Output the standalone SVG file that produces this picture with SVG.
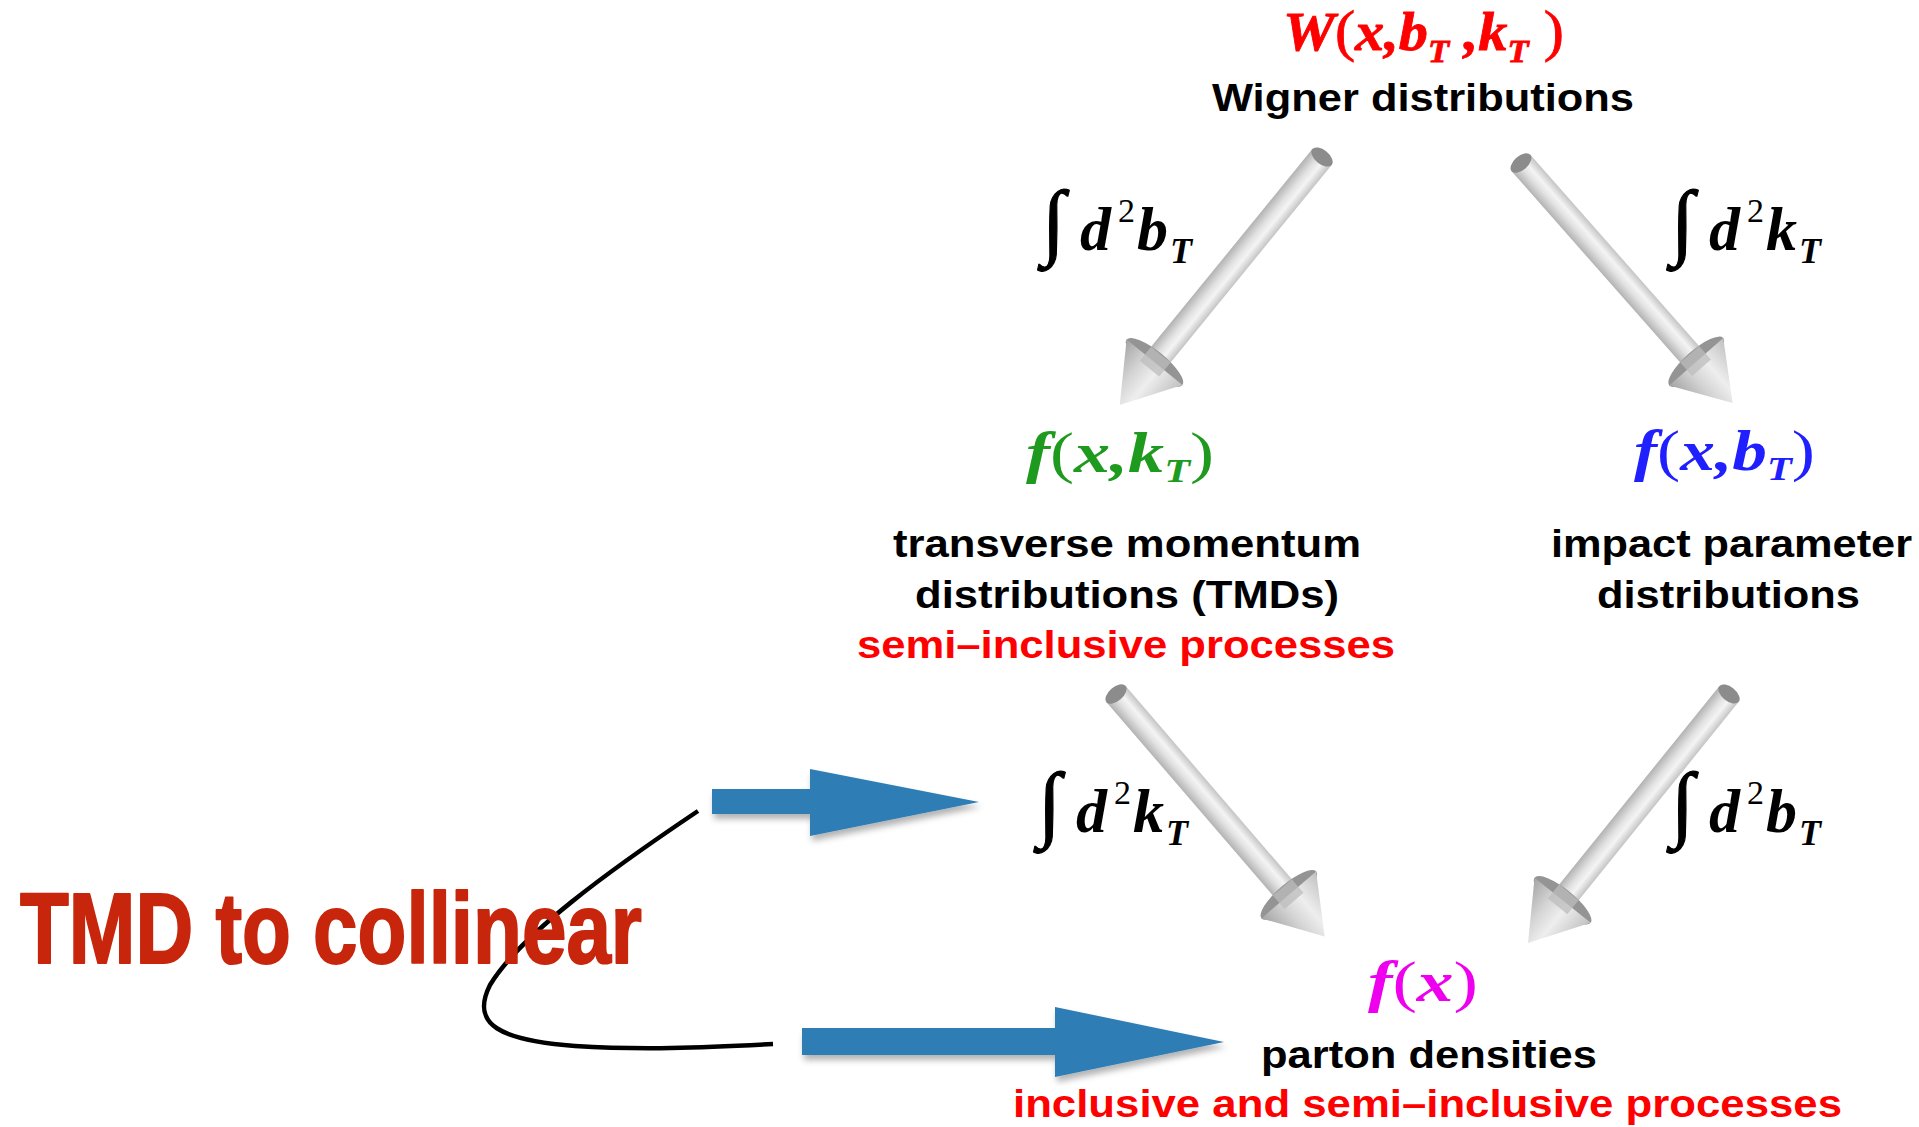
<svg xmlns="http://www.w3.org/2000/svg" width="1919" height="1127" viewBox="0 0 1919 1127">
<defs>
<style>
.sans{font-family:"Liberation Sans",Arial,sans-serif;font-weight:bold;}
.m{font-family:"Liberation Serif","Times New Roman",serif;font-weight:bold;font-style:italic;}
.up{font-style:normal;font-weight:normal;}
.int{font-family:"Liberation Serif","Times New Roman",serif;font-style:italic;font-size:84px;fill:#000;stroke:#000;stroke-width:1.2;}
.var{font-size:62px;}
.sup{font-family:"Liberation Serif","Times New Roman",serif;font-size:34px;}
.sub{font-size:36px;}
.lbl{font-size:39px;fill:#000;}
.red{fill:#ff0000;}
.tmd{font-family:"Liberation Sans Narrow","Liberation Sans",sans-serif;font-weight:bold;fill:#c8260c;stroke:#c8260c;stroke-width:2;stroke-linejoin:round;}
.blue{fill:#2f7db4;}
</style>
<linearGradient id="shaft" x1="0" y1="0" x2="0" y2="1">
<stop offset="0" stop-color="#c4c4c4"/>
<stop offset="0.35" stop-color="#f4f4f4"/>
<stop offset="0.6" stop-color="#e2e2e2"/>
<stop offset="1" stop-color="#b2b2b2"/>
</linearGradient>
<linearGradient id="cone" x1="0" y1="0" x2="0" y2="1">
<stop offset="0" stop-color="#c0c0c0"/>
<stop offset="0.4" stop-color="#eeeeee"/>
<stop offset="0.65" stop-color="#d4d4d4"/>
<stop offset="1" stop-color="#a4a4a4"/>
</linearGradient>
<g id="garrow">
<rect x="0" y="-12.5" width="270" height="25" fill="url(#shaft)"/>
<ellipse cx="0" cy="0" rx="7" ry="12.5" fill="#8c8c8c"/>
<ellipse cx="265" cy="0" rx="11" ry="36" fill="#949494"/>
<polygon points="265,-36 265,36 320,0" fill="url(#cone)"/>
<rect x="255" y="-12.5" width="18" height="25" fill="#bcbcbc" opacity="0.75"/>
</g>
<filter id="sh" x="-10%" y="-20%" width="130%" height="150%">
<feDropShadow dx="2" dy="5" stdDeviation="3" flood-color="#000" flood-opacity="0.3"/>
</filter>
</defs>
<rect width="1919" height="1127" fill="#fff"/>

<g id="connectors">
<use href="#garrow" transform="translate(1322,157) rotate(129.2)"/>
<use href="#garrow" transform="translate(1521,163) rotate(48.6)"/>
<use href="#garrow" transform="translate(1116,694) rotate(49.3)"/>
<use href="#garrow" transform="translate(1729,694) rotate(128.9)"/>
<polygon class="blue" filter="url(#sh)" points="712,789 810,789 810,769 979,802 810,836 810,814 712,814"/>
<polygon class="blue" filter="url(#sh)" points="802,1028 1055,1028 1055,1007 1224,1042 1055,1077 1055,1055 802,1055"/>
<path d="M698,811 C610,870 520,935 490,985 C470,1025 500,1040 575,1046 C640,1050 700,1048 773,1044" fill="none" stroke="#000" stroke-width="4.5"/>
</g>

<g id="label-int-ul">
<text class="int" x="1042" y="249">∫</text>
<text class="m var" x="1080" y="250">d</text>
<text class="sup" x="1118" y="222">2</text>
<text class="m var" x="1137" y="250">b</text>
<text class="m sub" x="1170" y="263">T</text>
</g>
<g id="label-int-ur">
<text class="int" x="1671" y="249">∫</text>
<text class="m var" x="1709" y="250">d</text>
<text class="sup" x="1747" y="222">2</text>
<text class="m var" x="1766" y="250">k</text>
<text class="m sub" x="1799" y="263">T</text>
</g>
<g id="label-int-ll">
<text class="int" x="1038" y="831">∫</text>
<text class="m var" x="1076" y="832">d</text>
<text class="sup" x="1114" y="804">2</text>
<text class="m var" x="1133" y="832">k</text>
<text class="m sub" x="1166" y="845">T</text>
</g>
<g id="label-int-lr">
<text class="int" x="1671" y="831">∫</text>
<text class="m var" x="1709" y="832">d</text>
<text class="sup" x="1747" y="804">2</text>
<text class="m var" x="1766" y="832">b</text>
<text class="m sub" x="1799" y="845">T</text>
</g>

<g id="node-wigner">
<text class="m red" x="1283" y="50" font-size="54" textLength="281" lengthAdjust="spacingAndGlyphs" stroke="#ff0000" stroke-width="0.8">W<tspan class="up" font-size="56">(</tspan>x,b<tspan font-size="32" dy="12">T</tspan><tspan dy="-12"> ,k</tspan><tspan font-size="32" dy="12">T</tspan><tspan class="up" font-size="56" dy="-12"> )</tspan></text>
<text class="sans lbl" x="1212" y="111" textLength="422" lengthAdjust="spacingAndGlyphs">Wigner distributions</text>
</g>

<g id="node-tmd">
<text class="m" x="1026" y="472" font-size="58" fill="#1e9a1e" textLength="188" lengthAdjust="spacingAndGlyphs">f<tspan class="up">(</tspan>x,k<tspan font-size="34" dy="10">T</tspan><tspan class="up" dy="-10">)</tspan></text>
<text class="sans lbl" x="893" y="557" textLength="468" lengthAdjust="spacingAndGlyphs">transverse momentum</text>
<text class="sans lbl" x="915" y="608" textLength="424" lengthAdjust="spacingAndGlyphs">distributions (TMDs)</text>
<text class="sans lbl red" x="857" y="658" textLength="538" lengthAdjust="spacingAndGlyphs">semi–inclusive processes</text>
</g>

<g id="node-ipd">
<text class="m" x="1634" y="470" font-size="58" fill="#2020ff" textLength="181" lengthAdjust="spacingAndGlyphs">f<tspan class="up">(</tspan>x,b<tspan font-size="34" dy="10">T</tspan><tspan class="up" dy="-10">)</tspan></text>
<text class="sans lbl" x="1551" y="557" textLength="361" lengthAdjust="spacingAndGlyphs">impact parameter</text>
<text class="sans lbl" x="1597" y="608" textLength="263" lengthAdjust="spacingAndGlyphs">distributions</text>
</g>

<g id="node-pdf">
<text class="m" x="1368" y="1001" font-size="58" fill="#ee00ee" textLength="110" lengthAdjust="spacingAndGlyphs">f<tspan class="up">(</tspan>x<tspan class="up">)</tspan></text>
<text class="sans lbl" x="1261" y="1068" textLength="336" lengthAdjust="spacingAndGlyphs">parton densities</text>
<text class="sans lbl red" x="1013" y="1117" textLength="829" lengthAdjust="spacingAndGlyphs">inclusive and semi–inclusive processes</text>
</g>

<g id="node-tmd-collinear">
<text class="tmd" x="20" y="963" font-size="100" textLength="622" lengthAdjust="spacingAndGlyphs">TMD to collinear</text>
</g>
</svg>
